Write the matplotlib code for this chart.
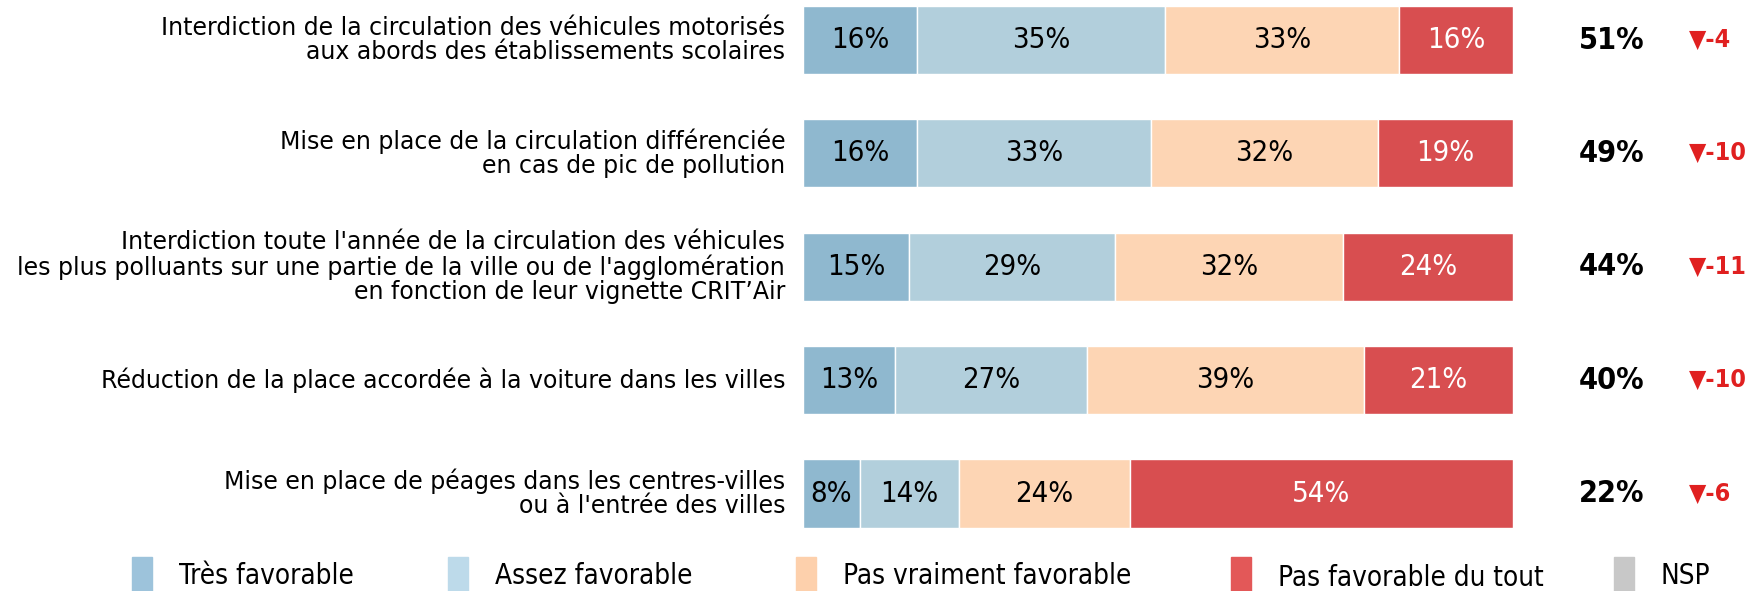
from matplotlib import pyplot as plt
from matplotlib.patches import Rectangle
import matplotlib.transforms as mtrans


# Setting
plt.rcParams['font.family'] = ['DejaVu Sans']

# Data
labels = [
    "Interdiction de la circulation des véhicules motorisés\naux abords des établissements scolaires",
    "Mise en place de la circulation différenciée\nen cas de pic de pollution",
    "Interdiction toute l'année de la circulation des véhicules\nles plus polluants sur une partie de la ville ou de l'agglomération\nen fonction de leur vignette CRIT’Air",
    "Réduction de la place accordée à la voiture dans les villes",
    "Mise en place de péages dans les centres-villes\nou à l'entrée des villes",
]
tres_fav = [16, 16, 15, 13, 8]
assez_fav = [35, 33, 29, 27, 14]
pas_vraiment = [33, 32, 32, 39, 24]
pas_du_tout = [16, 19, 24, 21, 54]
totals = [51, 49, 44, 40, 22]
evolution = [-4, -10, -11, -10, -6]

series_names = ["Très favorable", "Assez favorable", "Pas vraiment favorable",
                "Pas favorable du tout", "NSP"]
bar_colors = ["#8fb8cf", "#b2cfdc", "#fdd5b4", "#d84e50"]
legend_colors = ["#9dc3db", "#bddaea", "#fdd0ac", "#e35858", "#c8c8c8"]
text_colors = ["black", "black", "black", "white"]

W, H = 1758, 591
fig = plt.figure(figsize=(W / 100, H / 100), dpi=100)
ax = fig.add_axes([803 / W, 0, 710 / W, 1])
ax.set_xlim(0, 100)
ax.set_ylim(4.86, -0.353)
ax.axis('off')

cond = dict(family='DejaVu Sans', stretch='condensed')

# Stacked bars
series = [tres_fav, assez_fav, pas_vraiment, pas_du_tout]
for i in range(len(labels)):
    left = 0
    for s, vals in enumerate(series):
        v = vals[i]
        ax.barh(i, v, left=left, height=0.6, color=bar_colors[s],
                edgecolor='white', linewidth=1)
        ax.text(left + v / 2, i, f"{v}%", ha='center', va='center',
                fontsize=21, color=text_colors[s], **cond)
        left += v
    # Category label
    ax.text(-2.5, i, labels[i], ha='right', va='center', fontsize=17,
            linespacing=1.0)

# Totals and evolutions placed in figure x, data y
blend = mtrans.blended_transform_factory(fig.transFigure, ax.transData)
for i in range(len(labels)):
    ax.text(1612 / W, i, f"{totals[i]}%", transform=blend, ha='center',
            va='center', fontsize=22, fontweight='bold', **cond)
    ax.text(1689 / W, i, f"▼{evolution[i]}", transform=blend, ha='left',
            va='center', fontsize=18, fontweight='bold', color='#e02020', **cond)

# Legend
leg_x = [132, 448, 796, 1231, 1614]
for name, col, x in zip(series_names, legend_colors, leg_x):
    fig.patches.append(Rectangle((x / W, 0), 20 / W, 34 / H, color=col,
                                 transform=fig.transFigure, figure=fig))
    dy = 2 if name == "Pas favorable du tout" else 0
    fig.text((x + 47) / W, (15 - dy) / H, name, ha='left', va='center',
             fontsize=20, **cond)

plt.savefig('out.png')
plt.close()
